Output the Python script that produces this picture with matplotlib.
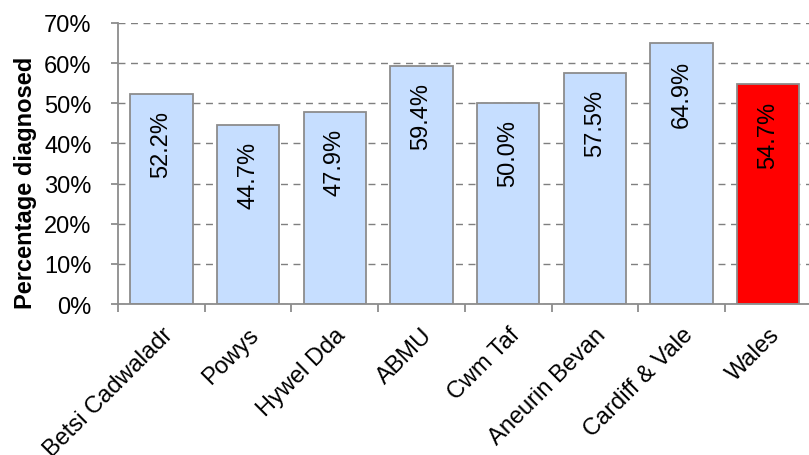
import matplotlib.pyplot as plt
import numpy as np
from matplotlib.ticker import PercentFormatter

plt.rcParams["font.family"] = ["Liberation Sans", "DejaVu Sans"]

boards = ["Betsi Cadwaladr", "Powys", "Hywel Dda", "ABMU", "Cwm Taf",
          "Aneurin Bevan", "Cardiff & Vale", "Wales"]
pct_diagnosed = [52.2, 44.7, 47.9, 59.4, 50.0, 57.5, 64.9, 54.7]
bar_colors = ["#C6DEFF"] * 7 + ["#FF0000"]

fig = plt.figure(figsize=(8.09, 4.56), dpi=100)
ax = fig.add_axes([118 / 809, 1 - 305 / 456, 691 / 809, 281 / 456])

x = np.arange(len(boards))
bars = ax.bar(x, pct_diagnosed, width=0.72, color=bar_colors,
              edgecolor="#8C8C8C", linewidth=1.3, zorder=2)

for xi, v in zip(x, pct_diagnosed):
    ax.annotate(f"{v:.1f}%", (xi, v), xytext=(0, -16), textcoords="offset pixels",
                rotation=90, ha="center", va="top", fontsize=17, zorder=3)

ax.set_xlim(-0.5, 7.47)
ax.set_ylim(0, 70)
ax.set_yticks(np.arange(0, 71, 10))
ax.yaxis.set_major_formatter(PercentFormatter(decimals=0))
ax.grid(axis="y", color="#7F7F7F", linestyle=(0, (5, 4)), linewidth=1.0, zorder=0)
ax.set_axisbelow(True)

ax.set_xticks(x)
ax.set_xticklabels(boards, rotation=45, ha="right", va="top",
                   rotation_mode="anchor", fontsize=17)
ax.set_xticks(np.arange(-0.5, 7.5, 1.0), minor=True)
ax.tick_params(axis="x", which="major", length=0, pad=14)
ax.tick_params(axis="x", which="minor", length=6, color="#8C8C8C", width=1.3)
ax.tick_params(axis="y", length=5, color="#8C8C8C", width=1.3, pad=14, labelsize=17)

for side in ["top", "right"]:
    ax.spines[side].set_visible(False)
for side in ["left", "bottom"]:
    ax.spines[side].set_color("#8C8C8C")
    ax.spines[side].set_linewidth(1.3)

ax.set_ylabel("Percentage diagnosed", fontsize=17, fontweight="bold")
ax.yaxis.set_label_coords(-0.117, 0.436)

fig.savefig("out.png", dpi=100)
